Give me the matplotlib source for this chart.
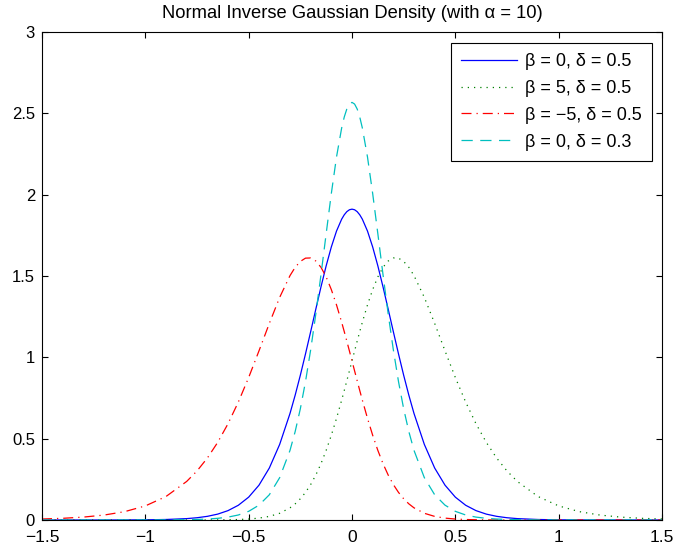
import matplotlib
matplotlib.use("Agg")
import matplotlib.pyplot as plt

plt.rcParams['font.family'] = ['Liberation Sans', 'DejaVu Sans']

# x grid (finer near the peaks)
x = [-1.5, -1.4, -1.3, -1.2, -1.1, -1.0, -0.9, -0.8, -0.75, -0.7, -0.65, -0.6,
     -0.55, -0.5, -0.45, -0.4, -0.35, -0.3, -0.275, -0.25, -0.225, -0.2, -0.175,
     -0.15, -0.125, -0.1, -0.075, -0.05, -0.0375, -0.025, -0.0125, 0.0,
     0.0125, 0.025, 0.0375, 0.05, 0.075, 0.1, 0.125, 0.15, 0.175, 0.2, 0.225,
     0.25, 0.275, 0.3, 0.35, 0.4, 0.45, 0.5, 0.55, 0.6, 0.65, 0.7, 0.75, 0.8,
     0.9, 1.0, 1.1, 1.2, 1.3, 1.4, 1.5]

# beta = 0, delta = 0.5
y_b0_d05 = [0.0, 0.0, 0.0001, 0.0001, 0.0004, 0.0011, 0.0031, 0.0085, 0.0139,
            0.0225, 0.0361, 0.0576, 0.0906, 0.1405, 0.2142, 0.3196, 0.4647,
            0.655, 0.7674, 0.8899, 1.0212, 1.1579, 1.2967, 1.4336, 1.5627,
            1.6786, 1.776, 1.8495, 1.8762, 1.8956, 1.9072, 1.911,
            1.9072, 1.8956, 1.8762, 1.8495, 1.776, 1.6786, 1.5627, 1.4336,
            1.2967, 1.1579, 1.0212, 0.8899, 0.7674, 0.655, 0.4647, 0.3196,
            0.2142, 0.1405, 0.0906, 0.0576, 0.0361, 0.0225, 0.0139, 0.0085,
            0.0031, 0.0011, 0.0004, 0.0001, 0.0001, 0.0, 0.0]

# beta = 5, delta = 0.5
y_b5_d05 = [0.0, 0.0, 0.0, 0.0, 0.0, 0.0, 0.0, 0.0001, 0.0002, 0.0003, 0.0007,
            0.0015, 0.003, 0.0059, 0.0116, 0.0221, 0.0413, 0.0748, 0.0993,
            0.1305, 0.1697, 0.218, 0.2766, 0.3466, 0.4281, 0.5211, 0.6247,
            0.7372, 0.796, 0.8561, 0.9169, 0.9781,
            1.039, 1.0994, 1.1582, 1.2154, 1.3225, 1.4164, 1.4941, 1.5533,
            1.5919, 1.6109, 1.6098, 1.5896, 1.5534, 1.5024, 1.3686, 1.2086,
            1.0401, 0.876, 0.7251, 0.5917, 0.4769, 0.3807, 0.3014, 0.237,
            0.1444, 0.0866, 0.0514, 0.0303, 0.0178, 0.0104, 0.0061]

# beta = -5, delta = 0.5
y_bm5_d05 = [0.0061, 0.0104, 0.0178, 0.0303, 0.0514, 0.0866, 0.1444, 0.237,
             0.3014, 0.3807, 0.4769, 0.5917, 0.7251, 0.876, 1.0401, 1.2086,
             1.3686, 1.5024, 1.5534, 1.5896, 1.6098, 1.6109, 1.5919, 1.5533,
             1.4941, 1.4164, 1.3225, 1.2154, 1.1582, 1.0994, 1.039, 0.9781,
             0.9169, 0.8561, 0.796, 0.7372, 0.6247, 0.5211, 0.4281, 0.3466,
             0.2766, 0.218, 0.1697, 0.1305, 0.0993, 0.0748, 0.0413, 0.0221,
             0.0116, 0.0059, 0.003, 0.0015, 0.0007, 0.0003, 0.0002, 0.0001,
             0.0, 0.0, 0.0, 0.0, 0.0, 0.0, 0.0]

# beta = 0, delta = 0.3
y_b0_d03 = [0.0, 0.0, 0.0, 0.0, 0.0001, 0.0002, 0.0007, 0.002, 0.0034, 0.0059,
            0.0103, 0.0178, 0.0308, 0.0532, 0.0913, 0.1552, 0.2603, 0.428,
            0.5437, 0.6836, 0.8509, 1.0463, 1.2674, 1.5088, 1.7602, 2.0072,
            2.2312, 2.4103, 2.4774, 2.5268, 2.557, 2.5673,
            2.557, 2.5268, 2.4774, 2.4103, 2.2312, 2.0072, 1.7602, 1.5088,
            1.2674, 1.0463, 0.8509, 0.6836, 0.5437, 0.428, 0.2603, 0.1552,
            0.0913, 0.0532, 0.0308, 0.0178, 0.0103, 0.0059, 0.0034, 0.002,
            0.0007, 0.0002, 0.0001, 0.0, 0.0, 0.0, 0.0]

labels = ['β = 0, δ = 0.5', 'β = 5, δ = 0.5', 'β = −5, δ = 0.5', 'β = 0, δ = 0.3']

fig = plt.figure(figsize=(6.76, 5.54), dpi=100)
ax = fig.add_axes([42 / 676, 34 / 554, 620 / 676, 488 / 554])

lw = 0.9
ax.plot(x, y_b0_d05, '-', color=(0, 0, 1), lw=lw, label=labels[0])
ax.plot(x, y_b5_d05, ':', color=(0, 0.5, 0), lw=lw, label=labels[1],
        dashes=(1, 4))
ax.plot(x, y_bm5_d05, '-.', color=(1, 0, 0), lw=lw, label=labels[2],
        dashes=(8, 4, 1, 4))
ax.plot(x, y_b0_d03, '--', color=(0, 0.75, 0.75), lw=lw, label=labels[3],
        dashes=(9, 6))

ax.set_xlim(-1.5, 1.5)
ax.set_ylim(0, 3)
ax.set_xticks([-1.5, -1, -0.5, 0, 0.5, 1, 1.5])
ax.set_xticklabels(['−1.5', '−1', '−0.5', '0', '0.5', '1', '1.5'])
ax.set_yticks([0, 0.5, 1, 1.5, 2, 2.5, 3])
ax.set_yticklabels(['0', '0.5', '1', '1.5', '2', '2.5', '3'])
ax.tick_params(direction='in', length=4, width=0.8, top=True, right=True)
ax.tick_params(axis='x', labelsize=12.5, pad=7.5)
ax.tick_params(axis='y', labelsize=12, pad=5)
for s in ax.spines.values():
    s.set_linewidth(0.8)

ax.set_title('Normal Inverse Gaussian Density (with α = 10)', fontsize=13.2, pad=10)

leg = ax.legend(loc='upper right', bbox_to_anchor=(1 - 10 / 620, 1 - 11 / 488),
                borderaxespad=0, fontsize=13, handlelength=3.1,
                labelspacing=0.55, fancybox=False, framealpha=1,
                edgecolor='black', handletextpad=0.45, borderpad=0.55)
leg.get_frame().set_linewidth(0.8)

fig.savefig('out.png', dpi=100)
